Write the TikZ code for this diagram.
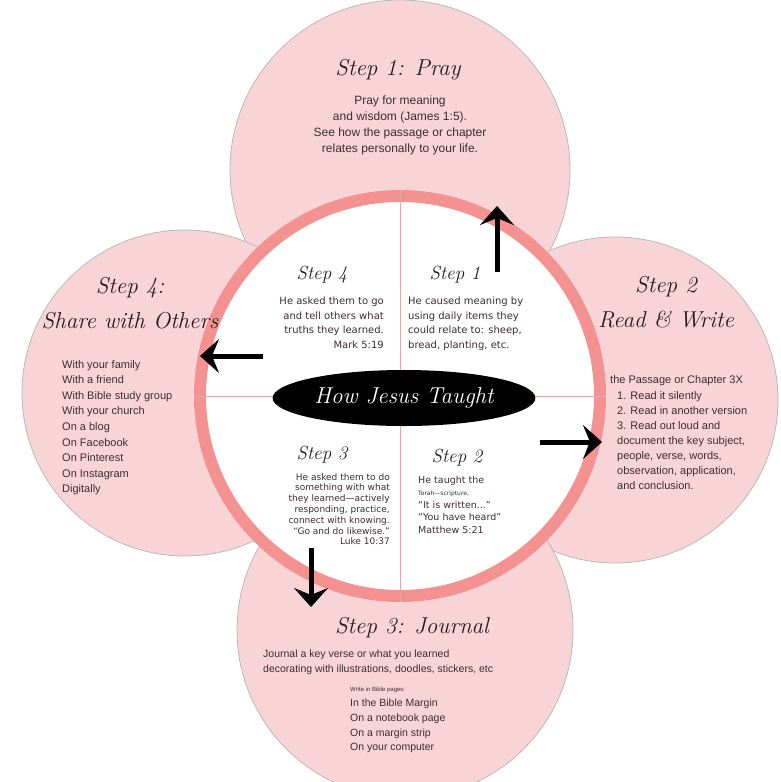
\documentclass[tikz,border=0pt]{standalone}
\usepackage{fontspec}
\newfontfamily\bodyfont{Liberation Sans}
\newfontfamily\innerfont{DejaVu Sans}
\usetikzlibrary{arrows.meta, positioning, shapes.geometric}
\definecolor{petalpink}{RGB}{249,212,214}
\definecolor{ringpink}{RGB}{244,146,146}
\definecolor{linepink}{RGB}{232,168,170}
\definecolor{bodyink}{RGB}{62,44,48}
\definecolor{titleink}{RGB}{38,26,30}

\begin{document}
\begin{tikzpicture}[x=1pt, y=-1pt,
  petal/.style = {circle, draw=gray!55, line width=0.8pt, fill=petalpink, inner sep=0pt},
  ringbox/.style = {circle, draw=ringpink, line width=12pt, fill=white, inner sep=0pt},
  divider/.style = {draw=linepink, line width=0.9pt},
  outertitle/.style = {font={\fontsize{23}{35}\selectfont\itshape}, text=titleink, align=center},
  innertitle/.style = {font={\fontsize{19}{22}\selectfont\itshape}, text=titleink},
  bodytext/.style 2 args = {font={\bodyfont\fontsize{#1}{#2}\selectfont}, text=bodyink, inner sep=0pt},
  innertext/.style 2 args = {font={\innerfont\fontsize{#1}{#2}\selectfont}, text=bodyink, inner sep=0pt},
  arrow/.style = {-{Stealth[length=19pt, width=34pt, inset=7pt]}, line width=5pt}
]
\useasboundingbox (0,0) rectangle (781,782);
\node[petal, minimum size=340pt] (pray) at (400,170) {};
\node[petal, minimum size=326pt] (share) at (185,393) {};
\node[petal, minimum size=326pt] (read) at (615,400) {};
\node[petal, minimum size=336pt] (journal) at (405,630) {};
\node[ringbox, minimum size=400pt] (ring) at (400,396) {};
\draw[divider] (ring.north) -- (ring.south);
\draw[divider] (ring.west) -- (ring.east);
\node[ellipse, fill=black, minimum width=210pt, minimum height=56pt, text=white,
  font={\fontsize{23}{26}\selectfont\itshape}] (taught) at (404,398) {How Jesus Taught};

\node[outertitle] (praytitle) at (398,70) {Step 1: Pray};
\node[bodytext={12}{16}, align=center, anchor=north] (praytext) at (400,96)
  {Pray for meaning\\and wisdom (James 1:5).\\See how the passage or chapter\\relates personally to your life.};

\node[outertitle] (readtitle) at (666,302) {Step 2\\Read \& Write};
\node[bodytext={11}{15}, anchor=north west] (readintro) at (610,375) {the Passage or Chapter 3X};
\node[bodytext={11}{15}, align=left, anchor=north west] (readsteps) at (617,391)
  {1. Read it silently\\2. Read in another version\\3. Read out loud and\\document the key subject,\\people, verse, words,\\observation, application,\\and conclusion.};

\node[outertitle] (sharetitle) at (130,303) {Step 4:\\Share with Others};
\node[bodytext={11}{15.6}, align=left, anchor=north west] (sharelist) at (62,360)
  {With your family\\With a friend\\With Bible study group\\With your church\\On a blog\\On Facebook\\On Pinterest\\On Instagram\\Digitally};

\node[outertitle] (journaltitle) at (412,628) {Step 3: Journal};
\node[bodytext={10.5}{14.5}, align=left, anchor=north west] (journaltext) at (263,650)
  {Journal a key verse or what you learned\\decorating with illustrations, doodles, stickers, etc};
\node[bodytext={6}{7}, anchor=north west] (journalnote) at (350,687) {Write in Bible pages:};
\node[bodytext={10.5}{14.7}, align=left, anchor=north west] (journallist) at (350,699)
  {In the Bible Margin\\On a notebook page\\On a margin strip\\On your computer};

\node[innertitle] (stepfour) at (322,275) {Step 4};
\node[innertext={10}{14.5}, align=right, anchor=north east] (stepfourtext) at (384,297)
  {He asked them to go\\and tell others what\\truths they learned.\\Mark 5:19};
\node[innertitle] (stepone) at (455,275) {Step 1};
\node[innertext={10}{14.5}, align=left, anchor=north west] (steponetext) at (408,297)
  {He caused meaning by\\using daily items they\\could relate to: sheep,\\bread, planting, etc.};
\node[innertitle] (stepthree) at (322,455) {Step 3};
\node[innertext={9}{10.8}, align=right, anchor=north east] (stepthreetext) at (390,473)
  {He asked them to do\\something with what\\they learned—actively\\responding, practice,\\connect with knowing.\\“Go and do likewise.”\\Luke 10:37};
\node[innertitle] (steptwo) at (457,458) {Step 2};
\node[innertext={9.5}{12.5}, align=left, anchor=north west] (steptwotext) at (418,476)
  {He taught the\\{\fontsize{6}{12.5}\selectfont Torah—scripture,}\\“It is written...”\\“You have heard”\\Matthew 5:21};

\coordinate (praytail) at (497,272);
\coordinate (praytip) at (497,206);
\coordinate (sharetail) at (263,356);
\coordinate (sharetip) at (200,356);
\coordinate (readtail) at (540,442);
\coordinate (readtip) at (602,442);
\coordinate (journaltail) at (311,548);
\coordinate (journaltip) at (311,607);
\draw[arrow] (praytail) -- (praytip);
\draw[arrow] (sharetail) -- (sharetip);
\draw[arrow] (readtail) -- (readtip);
\draw[arrow] (journaltail) -- (journaltip);
\end{tikzpicture}
\end{document}
